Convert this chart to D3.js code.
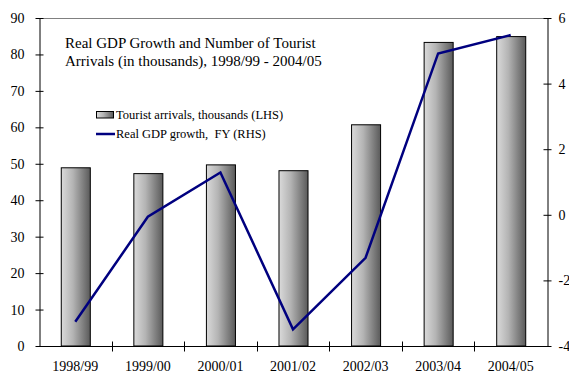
<!DOCTYPE html>
<html>
<head>
<meta charset="utf-8">
<script src="https://cdn.jsdelivr.net/npm/d3@7"></script>
<style>
  html, body { margin: 0; padding: 0; background: #fff; }
  svg { display: block; }
  svg text { font-family: "Liberation Serif", "Times New Roman", serif; white-space: pre; }
</style>
</head>
<body>
<svg id="chart" width="569" height="374"></svg>
<script>
// Fiscal years on the x axis
const years = ["1998/99", "1999/00", "2000/01", "2001/02", "2002/03", "2003/04", "2004/05"];
// Tourist arrivals, thousands (left axis)
const arrivals = [48.9, 47.3, 49.7, 48.1, 60.7, 83.3, 84.9];
// Real GDP growth, fiscal year, percent (right axis)
const gdpGrowth = [-3.26, -0.06, 1.29, -3.49, -1.31, 4.92, 5.48];
// Axis ticks
const leftTicks = [0, 10, 20, 30, 40, 50, 60, 70, 80, 90];
const rightTicks = [-4, -2, 0, 2, 4, 6];

const titleLines = ["Real GDP Growth and Number of Tourist", "Arrivals (in thousands), 1998/99 - 2004/05"];
const legendLabels = ["Tourist arrivals, thousands (LHS)", "Real GDP growth,  FY (RHS)"];

const SERIF = '"Liberation Serif", "Times New Roman", serif';

const svg = d3.select("#chart");
const m = { left: 39, right: 547, top: 18, bottom: 346 };

const x = d3.scaleBand().domain(years).range([m.left, m.right]).paddingInner(0.6).paddingOuter(0.3);
const yL = d3.scaleLinear().domain([0, 90]).range([m.bottom, m.top]);
const yR = d3.scaleLinear().domain([-4, 6]).range([m.bottom, m.top]);

// Bar shading: light on the left, dark on the right
const defs = svg.append("defs");
const grad = defs.append("linearGradient").attr("id", "barGrad")
  .attr("x1", "0%").attr("x2", "100%").attr("y1", "0%").attr("y2", "0%");
grad.append("stop").attr("offset", "0%").attr("stop-color", "#dadada");
grad.append("stop").attr("offset", "40%").attr("stop-color", "#b4b4b4");
grad.append("stop").attr("offset", "100%").attr("stop-color", "#5a5a5a");

// Top frame line
svg.append("line")
  .attr("x1", m.left).attr("x2", m.right)
  .attr("y1", m.top + 0.5).attr("y2", m.top + 0.5)
  .attr("stroke", "#808080").attr("stroke-width", 1);

// Bars
svg.append("g").selectAll("rect").data(years).join("rect")
  .attr("x", d => x(d) + 0.5)
  .attr("y", (d, i) => yL(arrivals[i]))
  .attr("width", x.bandwidth())
  .attr("height", (d, i) => yL(0) - yL(arrivals[i]))
  .attr("fill", "url(#barGrad)")
  .attr("stroke", "#000").attr("stroke-width", 1);

const axisFont = g => g.attr("font-family", SERIF).attr("font-size", 14)
  .selectAll("text")
  .attr("font-family", SERIF)
  .style("font-family", SERIF)
  .style("font-size", "14px")
  .attr("fill", "#000");

// Left axis
const gL = svg.append("g").attr("transform", `translate(${m.left + 0.5},0)`)
  .call(d3.axisLeft(yL).tickValues(leftTicks).tickSize(4).tickSizeOuter(0).tickPadding(11));
gL.selectAll(".tick line").attr("x1", 4).attr("x2", -4);
gL.call(axisFont);

// Right axis
const gR = svg.append("g").attr("transform", `translate(${m.right + 0.5},0)`)
  .call(d3.axisRight(yR).tickValues(rightTicks).tickSize(4).tickSizeOuter(0).tickPadding(7)
    .tickFormat(d => d < 0 ? "-" + Math.abs(d) : String(d)));
gR.selectAll(".tick line").attr("x1", -4).attr("x2", 4);
gR.call(axisFont);

// Bottom axis: labels centred on bars, ticks on the category boundaries
const gB = svg.append("g").attr("transform", `translate(0,${m.bottom + 0.5})`)
  .call(d3.axisBottom(x).tickSize(0).tickPadding(15));
gB.select(".domain").attr("d", `M${m.left},0H${m.right}`).attr("stroke", "#000");
gB.call(axisFont);
const step = x.step();
gB.selectAll(".divider").data(d3.range(1, years.length)).join("line")
  .attr("class", "divider")
  .attr("x1", i => Math.round(m.left + i * step) + 0.5)
  .attr("x2", i => Math.round(m.left + i * step) + 0.5)
  .attr("y1", -5).attr("y2", 5)
  .attr("stroke", "#000");

// GDP growth line
const line = d3.line()
  .x((d, i) => x(years[i]) + x.bandwidth() / 2)
  .y(d => yR(d));
svg.append("path").datum(gdpGrowth)
  .attr("d", line)
  .attr("fill", "none")
  .attr("stroke", "#00007f")
  .attr("stroke-width", 2.5)
  .attr("stroke-linejoin", "miter");

// Title
svg.append("text").attr("x", 65).attr("y", 48)
  .style("font-size", "15px").attr("fill", "#000")
  .selectAll("tspan").data(titleLines).join("tspan")
  .attr("x", 65).attr("dy", (d, i) => i === 0 ? 0 : 17.5)
  .text(d => d);

// Legend
const lg = svg.append("g");
lg.append("rect").attr("x", 96.5).attr("y", 111.5).attr("width", 17).attr("height", 6.5)
  .attr("fill", "url(#barGrad)").attr("stroke", "#000").attr("stroke-width", 1);
lg.append("line").attr("x1", 96).attr("x2", 115).attr("y1", 134).attr("y2", 134)
  .attr("stroke", "#00007f").attr("stroke-width", 2.5);
lg.selectAll("text").data(legendLabels).join("text")
  .attr("x", 116).attr("y", (d, i) => 119 + i * 19)
  .style("font-size", "12.5px").attr("fill", "#000")
  .text(d => d);
</script>
</body>
</html>
